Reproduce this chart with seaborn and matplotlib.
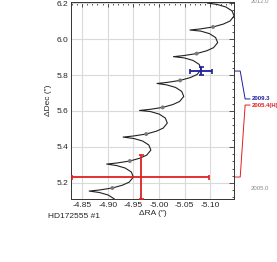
import numpy as np
import pandas as pd
import matplotlib
matplotlib.use("Agg")
import matplotlib.pyplot as plt
import matplotlib.ticker as mticker
import matplotlib.transforms as mtransforms
import seaborn as sns

# Orbit track (RA, Dec offsets in arcsec)
track_ra = [-4.909, -4.917, -4.913, -4.901, -4.884,
            -4.864, -4.884, -4.909, -4.929, -4.942, -4.950, -4.946, -4.934, -4.917,
            -4.898, -4.918, -4.943, -4.963, -4.976, -4.984, -4.980, -4.968, -4.951,
            -4.930, -4.950, -4.975, -4.995, -5.008, -5.016, -5.012, -5.000, -4.983,
            -4.962, -4.982, -5.007, -5.027, -5.040, -5.048, -5.044, -5.032, -5.015,
            -4.996, -5.016, -5.041, -5.061, -5.074, -5.082, -5.078, -5.066, -5.049,
            -5.028, -5.048, -5.073, -5.093, -5.106, -5.114, -5.110, -5.098, -5.081,
            -5.060, -5.080, -5.105, -5.125, -5.138, -5.146, -5.142, -5.130, -5.113,
            -5.094, -5.114, -5.139]
track_dec = [5.055, 5.083, 5.111, 5.133, 5.147,
             5.155, 5.161, 5.172, 5.188, 5.205, 5.233, 5.261, 5.283, 5.297,
             5.305, 5.311, 5.322, 5.338, 5.355, 5.383, 5.411, 5.433, 5.447,
             5.455, 5.461, 5.472, 5.488, 5.505, 5.533, 5.561, 5.583, 5.597,
             5.603, 5.609, 5.620, 5.636, 5.653, 5.681, 5.709, 5.731, 5.745,
             5.753, 5.759, 5.770, 5.786, 5.803, 5.831, 5.859, 5.881, 5.895,
             5.902, 5.908, 5.919, 5.935, 5.952, 5.980, 6.008, 6.030, 6.044,
             6.050, 6.056, 6.067, 6.083, 6.100, 6.128, 6.156, 6.178, 6.192,
             6.200, 6.206, 6.217]

# Yearly epochs on the track
year_ra = [-4.909, -4.943, -4.975, -5.007, -5.041, -5.073, -5.105]
year_dec = [5.172, 5.322, 5.472, 5.620, 5.770, 5.919, 6.067]

# Measurements
obs_labels = ["2009.3", "2005.4(H)"]
obs_ra = [-5.082, -4.964]
obs_dec = [5.822, 5.233]
obs_ra_err = [0.0215, 0.134]
obs_dec_err = [0.022, 0.122]
obs_colors = ["#1e1ea0", "#e02020"]
obs_label_dec = [5.667, 5.633]

epoch_labels = ["2012.0", "2005.0"]
epoch_dec = [6.21, 5.172]

track = pd.DataFrame({"ra": track_ra, "dec": track_dec})
years = pd.DataFrame({"ra": year_ra, "dec": year_dec})

sns.set_theme(style="white")
plt.rcParams["font.family"] = ["Liberation Sans", "DejaVu Sans"]

fig = plt.figure(figsize=(2.77, 2.62), dpi=100)
ax = fig.add_axes([0.2552, 0.2405, 0.5913, 0.750])

ax.grid(True, color="#dadada", linewidth=0.8, zorder=0)
sns.lineplot(data=track, x="ra", y="dec", sort=False, estimator=None,
             color="#222222", linewidth=0.8, ax=ax, zorder=2)
sns.scatterplot(data=years, x="ra", y="dec", color="#7a7a7a", s=8,
                edgecolor="none", ax=ax, zorder=3)

for x, y, ex, ey, c in zip(obs_ra, obs_dec, obs_ra_err, obs_dec_err, obs_colors):
    ax.errorbar(x, y, xerr=ex, yerr=ey, color=c, linewidth=1.3,
                capsize=1.8, capthick=1.2, zorder=4)

ax.set_xlim(-4.828, -5.1467)
ax.set_ylim(5.111, 6.203)
ax.xaxis.set_major_locator(mticker.MultipleLocator(0.05))
ax.xaxis.set_minor_locator(mticker.MultipleLocator(0.01))
ax.yaxis.set_major_locator(mticker.MultipleLocator(0.2))
ax.yaxis.set_minor_locator(mticker.MultipleLocator(0.04))
ax.xaxis.set_major_formatter(mticker.FormatStrFormatter("%.2f"))
ax.yaxis.set_major_formatter(mticker.FormatStrFormatter("%.1f"))
ax.tick_params(which="both", direction="in", top=True, right=True,
               color="#333333", width=0.6, labelsize=6, pad=2)
ax.tick_params(which="major", length=3.5)
ax.tick_params(which="minor", length=1.8)
for s in ax.spines.values():
    s.set_color("#333333")
    s.set_linewidth(0.7)

ax.set_xlabel("ΔRA (″)", fontsize=6, labelpad=1)
ax.set_ylabel("ΔDec (″)", fontsize=6, labelpad=3)
fig.text(0.173, 0.172, "HD172555 #1", fontsize=6, ha="left", va="center")

# connectors + labels on the right
trans = mtransforms.blended_transform_factory(ax.transAxes, ax.transData)
for lab, y0, y1, c in zip(obs_labels, obs_dec, obs_label_dec, obs_colors):
    ax.plot([1.0, 1.035, 1.065, 1.095], [y0, y0, y1, y1], color=c,
            linewidth=0.7, transform=trans, clip_on=False)
    ax.text(1.105, y1, lab, color=c, fontsize=4.3, fontweight="bold",
            ha="left", va="center", transform=trans)
for lab, y in zip(epoch_labels, epoch_dec):
    ax.text(1.10, y, lab, color="#888888", fontsize=4.3,
            ha="left", va="center", transform=trans)

fig.savefig("out.png", dpi=100)
